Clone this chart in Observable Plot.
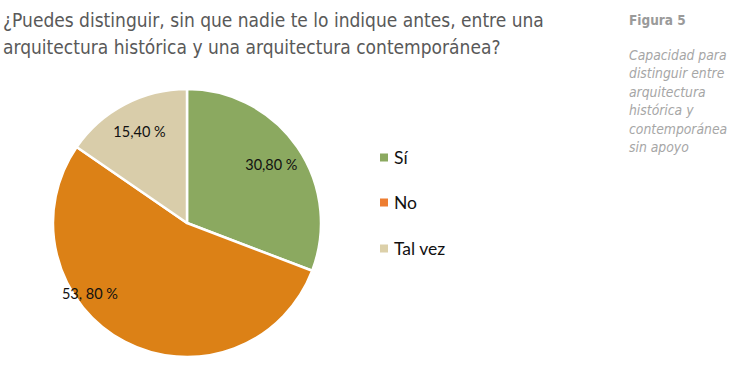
<!DOCTYPE html>
<html><head><meta charset="utf-8">
<script src="https://cdn.jsdelivr.net/npm/d3@7"></script>
<script src="https://cdn.jsdelivr.net/npm/@observablehq/plot@0.6"></script>
<style>
body{margin:0;background:#fff;width:741px;height:378px;position:relative;overflow:hidden}
#title{position:absolute;left:3px;top:7px;font-family:"DejaVu Sans Condensed",Roboto,sans-serif;font-size:19px;line-height:27px;color:#595959;white-space:nowrap;z-index:2}
#note{position:absolute;left:629px;top:12px;font-family:"DejaVu Sans Condensed",Roboto,sans-serif;color:#a6a6a6;z-index:2}
#note .fig{font-weight:bold;font-size:13.5px;color:#9a9a9a;margin-bottom:18px}
#note .desc{font-style:italic;font-size:13.8px;line-height:18.4px}
#chart{position:absolute;left:0;top:70px;z-index:1}
#legend{position:absolute;left:380px;top:0;font-family:Lato,"Open Sans",sans-serif;font-size:17.5px;color:#111;z-index:2}
.li{position:absolute;left:0;white-space:nowrap;display:flex;align-items:center;transform:translateY(-50%)}
.sw{width:8px;height:8px;margin-right:6px}
</style></head>
<body>
<div id="chart"></div>
<div id="title">¿Puedes distinguir, sin que nadie te lo indique antes, entre una<br>arquitectura histórica y una arquitectura contemporánea?</div>
<div id="note"><div class="fig">Figura 5</div><div class="desc">Capacidad para<br>distinguir entre<br>arquitectura<br>histórica y<br>contemporánea<br>sin apoyo</div></div>
<div id="legend"></div>
<script>
const categories = ["Sí", "No", "Tal vez"];
const values = [30.8, 53.8, 15.4];
const labels = ["30,80 %", "53, 80 %", "15,40 %"];
const sliceColors = ["#8ba960", "#dc8116", "#d9cdaa"];
const legendColors = ["#8ba960", "#ed7d31", "#dcd0a9"];

const data = categories.map((c, i) => ({cat: c, value: values[i], label: labels[i]}));
const arcs = d3.pie().sort(null).value(d => d.value)(data);

// label placement (fraction of radius, optional angle override in degrees)
const place = [{r: 0.76}, {r: 0.9, a: 234}, {r: 0.77}];
const labelRows = arcs.map((a, i) => {
  const ang = place[i].a != null ? place[i].a * Math.PI / 180 : (a.startAngle + a.endAngle) / 2;
  return {x: place[i].r * Math.sin(ang), y: place[i].r * Math.cos(ang), text: a.data.label};
});

const pieMark = (index, scales) => {
  const cx = scales.x(0), cy = scales.y(0), r = scales.x(1) - scales.x(0);
  const arc = d3.arc().innerRadius(0).outerRadius(r);
  const g = d3.create("svg:g").attr("transform", `translate(${cx},${cy})`);
  g.selectAll("path").data(arcs).join("path")
    .attr("d", arc)
    .attr("fill", (d, i) => sliceColors[i])
    .attr("stroke", "#fff").attr("stroke-width", 2.5).attr("stroke-linejoin", "round");
  return g.node();
};

const chart = Plot.plot({
  width: 741, height: 308, margin: 0,
  style: {background: "transparent", overflow: "visible"},
  x: {domain: [-1, 1], range: [53, 321], axis: null},
  y: {domain: [-1, 1], range: [287, 19], axis: null},
  marks: [
    pieMark,
    Plot.text(labelRows, {x: "x", y: "y", text: "text", fill: "#111", fontSize: 14.5, fontFamily: "Lato, 'Open Sans', sans-serif"})
  ]
});
document.getElementById("chart").append(chart);

const legendY = [157, 202, 248];
const lg = document.getElementById("legend");
categories.forEach((c, i) => {
  const d = document.createElement("div");
  d.className = "li";
  d.style.top = legendY[i] + "px";
  d.innerHTML = `<span class="sw" style="background:${legendColors[i]}"></span><span>${c}</span>`;
  lg.append(d);
});
</script>
</body></html>
